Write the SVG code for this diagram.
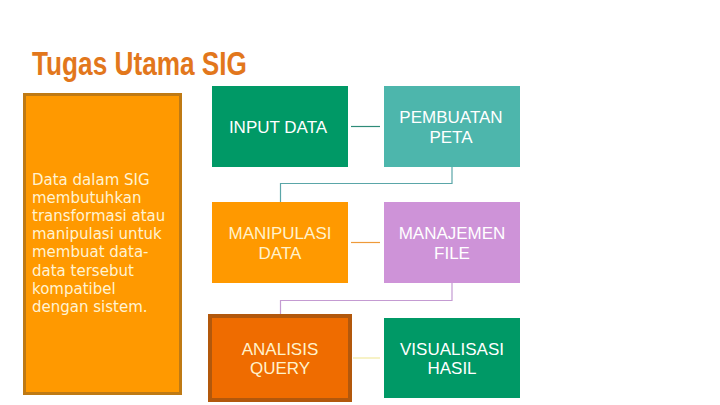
<svg xmlns="http://www.w3.org/2000/svg" width="720" height="405" viewBox="0 0 720 405">
<style>
.lbl{font-family:"Liberation Sans",Arial,sans-serif;font-size:17px;text-anchor:middle}
.w{fill:#FFFFFF}
.c{fill:#FFF2CC}
.conn{fill:none;stroke-width:1.2}
.body{font-family:"DejaVu Sans","Open Sans",sans-serif;font-size:15px;fill:#FFF3D2}
</style>
<rect width="720" height="405" fill="#FFFFFF"/>
<text x="32" y="75" font-family="'Liberation Sans Narrow','Liberation Sans',sans-serif" font-weight="bold" font-size="34" fill="#E2771C" textLength="215" lengthAdjust="spacingAndGlyphs">Tugas Utama SIG</text>

<g id="desc">
<rect x="24.5" y="94.5" width="156" height="299" fill="#FF9900" stroke="#BF7A14" stroke-width="3"/>
<text class="body" x="32" y="185">Data dalam SIG</text>
<text class="body" x="32" y="203.1">membutuhkan</text>
<text class="body" x="32" y="221.2">transformasi atau</text>
<text class="body" x="32" y="239.3">manipulasi untuk</text>
<text class="body" x="32" y="257.4">membuat data-</text>
<text class="body" x="32" y="275.5">data tersebut</text>
<text class="body" x="32" y="293.6">kompatibel</text>
<text class="body" x="32" y="311.7">dengan sistem.</text>
</g>

<g id="connectors">
<line class="conn" x1="351" y1="126.5" x2="380" y2="126.5" stroke="#2E8B78"/>
<polyline class="conn" points="452,167 452,183.5 280.5,183.5 280.5,202" stroke="#5AA6A8"/>
<line class="conn" x1="351" y1="242.5" x2="380" y2="242.5" stroke="#EE9A3A"/>
<polyline class="conn" points="452,283 452,300.5 280.5,300.5 280.5,314" stroke="#C49BD2"/>
<line class="conn" x1="353" y1="358" x2="380" y2="358" stroke="#F2EAA0"/>
</g>

<g id="input-data">
<rect x="212" y="86" width="136" height="81" fill="#009966"/>
<text class="lbl w" x="278" y="132.5">INPUT DATA</text>
</g>
<g id="pembuatan-peta">
<rect x="384" y="86" width="136" height="81" fill="#4DB6AC"/>
<text class="lbl w" x="451" y="123">PEMBUATAN</text>
<text class="lbl w" x="451" y="142.5">PETA</text>
</g>
<g id="manipulasi-data">
<rect x="212" y="202" width="136" height="81" fill="#FF9900"/>
<text class="lbl c" x="280" y="239">MANIPULASI</text>
<text class="lbl c" x="280" y="258.5">DATA</text>
</g>
<g id="manajemen-file">
<rect x="384" y="202" width="136" height="81" fill="#CE93D8"/>
<text class="lbl w" x="452" y="239">MANAJEMEN</text>
<text class="lbl w" x="452" y="258.5">FILE</text>
</g>
<g id="analisis-query">
<rect x="210" y="316" width="140" height="84" fill="#EF6C00" stroke="#B2580C" stroke-width="4"/>
<text class="lbl c" x="280" y="354.5">ANALISIS</text>
<text class="lbl c" x="280" y="374">QUERY</text>
</g>
<g id="visualisasi-hasil">
<rect x="384" y="318" width="136" height="80" fill="#009966"/>
<text class="lbl w" x="452" y="354.5">VISUALISASI</text>
<text class="lbl w" x="452" y="374">HASIL</text>
</g>
</svg>
